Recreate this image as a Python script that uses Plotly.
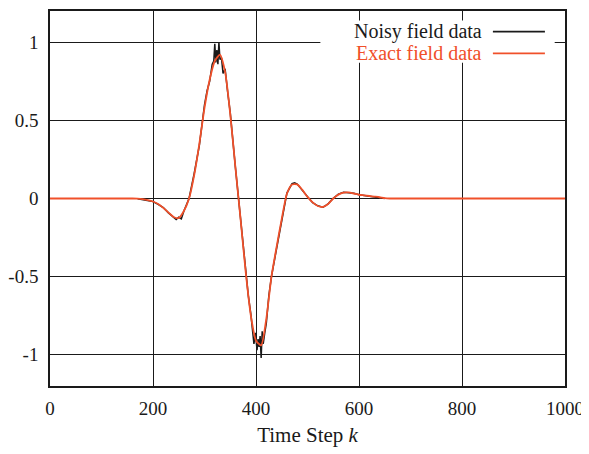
import plotly.graph_objects as go

# Exact field data (time step k, field value)
exact_k = [0, 160, 170, 180, 190, 200, 210, 220, 230, 240, 250, 260, 270, 280, 290,
           300, 310, 320, 330, 340, 350, 360, 370, 380, 390, 400, 410, 420, 430, 440,
           450, 460, 470, 480, 490, 500, 510, 520, 530, 540, 550, 560, 570, 580, 590,
           600, 610, 620, 630, 640, 650, 660, 1000]
exact_v = [0, 0, -0.001, -0.004, -0.01, -0.019, -0.035, -0.06, -0.09, -0.118, -0.125, -0.08, 0.0, 0.15, 0.35,
           0.58, 0.76, 0.88, 0.92, 0.81, 0.54, 0.2, -0.13, -0.47, -0.75, -0.91, -0.94, -0.77, -0.5, -0.31,
           -0.13, 0.03, 0.09, 0.09, 0.055, 0.01, -0.025, -0.048, -0.054, -0.035, 0.0, 0.025, 0.038, 0.039, 0.032,
           0.024, 0.02, 0.016, 0.012, 0.008, 0.002, 0, 0]

# Noisy field data
noisy_k = [170, 180, 190, 200, 210, 220, 230, 240, 245, 250, 255, 260, 270, 280, 290,
           300, 305, 310, 315, 318, 320, 322, 324, 326, 328, 330, 333, 336, 340, 345,
           350, 360, 370, 380, 385, 390, 393, 396, 399, 402, 404, 406, 408, 410, 412,
           414, 417, 420, 425, 430, 440, 450, 460, 470, 475, 480, 490, 500, 510, 520,
           530, 540, 550, 560, 570, 580, 590, 600, 610, 620, 630, 640, 650]
noisy_v = [-0.001, -0.006, -0.012, -0.02, -0.037, -0.058, -0.092, -0.122, -0.135, -0.12, -0.13, -0.08, 0.0, 0.16, 0.34,
           0.6, 0.69, 0.75, 0.86, 0.88, 0.99, 0.87, 0.95, 0.86, 1.0, 0.89, 0.9, 0.8, 0.83, 0.68,
           0.55, 0.2, -0.13, -0.47, -0.62, -0.74, -0.86, -0.93, -0.86, -0.97, -0.9, -0.95, -0.88, -1.02, -0.85,
           -0.93, -0.86, -0.8, -0.62, -0.5, -0.32, -0.13, 0.035, 0.095, 0.1, 0.092, 0.055, 0.012, -0.027, -0.047,
           -0.056, -0.034, 0.002, 0.028, 0.04, 0.038, 0.033, 0.024, 0.02, 0.016, 0.011, 0.007, 0.0]

x_ticks = [0, 200, 400, 600, 800, 1000]
y_ticks = [-1, -0.5, 0, 0.5, 1]
y_tick_text = ["-1", "-0.5", "0", "0.5", "1"]

BLACK = "#1a1a1a"
RED = "#f0502a"
FONT = "Liberation Serif"

fig = go.Figure()
fig.add_trace(go.Scatter(x=noisy_k, y=noisy_v, mode="lines", name="Noisy field data",
                         line=dict(color=BLACK, width=1.5)))
fig.add_trace(go.Scatter(x=exact_k, y=exact_v, mode="lines", name="Exact field data",
                         line=dict(color=RED, width=1.8, shape="spline", smoothing=0.6)))

axis_common = dict(showline=True, linecolor=BLACK, linewidth=1.5, mirror="ticks",
                   showgrid=True, gridcolor=BLACK, gridwidth=1.3, zeroline=False,
                   ticks="inside", ticklen=9, tickcolor=BLACK, tickwidth=1.3, automargin=False,
                   layer="below traces",
                   tickfont=dict(family=FONT, size=19, color=BLACK))

fig.update_xaxes(range=[0, 1000], tickvals=x_ticks, ticklabelstandoff=4,
                 title=dict(text="Time Step <i>k</i>", font=dict(family=FONT, size=21, color=BLACK),
                            standoff=10),
                 **axis_common)
fig.update_yaxes(range=[-1.2, 1.2], tickvals=y_ticks, ticktext=y_tick_text, ticklabelstandoff=6,
                 **axis_common)

# key box: opaque background hiding grid, text left of line sample
fig.add_shape(type="rect", xref="x domain", yref="y domain", x0=0.525, x1=0.98, y0=0.862, y1=0.975,
              fillcolor="white", line=dict(width=0), layer="above")
for label, color, yy in [("Noisy field data", BLACK, 0.945), ("Exact field data", RED, 0.887)]:
    fig.add_annotation(xref="x domain", yref="y domain", x=0.842, y=yy, text=label,
                       showarrow=False, xanchor="right", yanchor="middle",
                       font=dict(family=FONT, size=20, color=color))
    fig.add_shape(type="line", xref="x domain", yref="y domain", x0=0.86, x1=0.961, y0=yy, y1=yy,
                  line=dict(color=color, width=1.8), layer="above")

# the page body has an 8px margin at top/left, so the figure is shrunk by that much
fig.update_layout(width=581, height=446, margin=dict(l=42, r=24, t=3, b=68),
                  plot_bgcolor="white", paper_bgcolor="white", showlegend=False)

fig.write_html("out.html")
